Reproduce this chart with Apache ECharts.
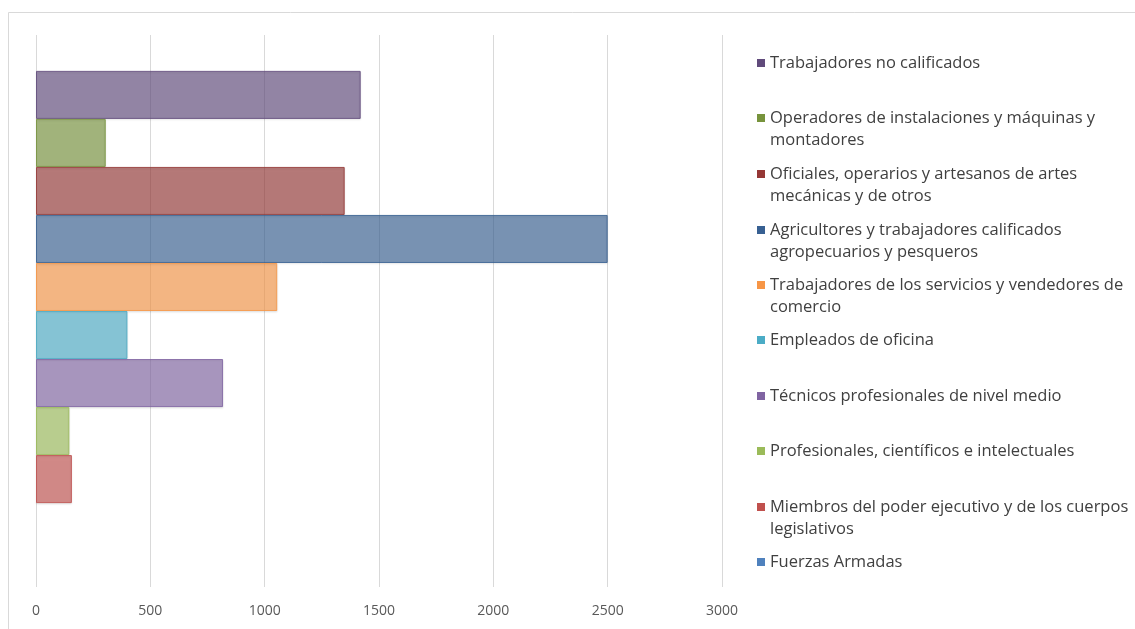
<!DOCTYPE html>
<html>
<head>
<meta charset="utf-8">
<script src="https://cdn.jsdelivr.net/npm/echarts@6/dist/echarts.min.js"></script>
<style>
html,body{margin:0;padding:0;background:#fff;}
#chart{width:1135px;height:629px;}
</style>
</head>
<body>
<div id="chart"></div>
<script>
// Data (top to bottom as drawn)
const seriesNames = [
  'Trabajadores no calificados',
  'Operadores de instalaciones y máquinas y montadores',
  'Oficiales, operarios y artesanos de artes mecánicas y de otros',
  'Agricultores y trabajadores calificados agropecuarios y pesqueros',
  'Trabajadores de los servicios y vendedores de comercio',
  'Empleados de oficina',
  'Técnicos profesionales de nivel medio',
  'Profesionales, científicos e intelectuales',
  'Miembros del poder ejecutivo y de los cuerpos legislativos',
  'Fuerzas Armadas'
];
// legend text split into lines as wrapped in the picture
const legendLines = [
  ['Trabajadores no calificados'],
  ['Operadores de instalaciones y máquinas y', 'montadores'],
  ['Oficiales, operarios y artesanos de artes', 'mecánicas y de otros'],
  ['Agricultores y trabajadores calificados', 'agropecuarios y pesqueros'],
  ['Trabajadores de los servicios y vendedores de', 'comercio'],
  ['Empleados de oficina'],
  ['Técnicos profesionales de nivel medio'],
  ['Profesionales, científicos e intelectuales'],
  ['Miembros del poder ejecutivo y de los cuerpos', 'legislativos'],
  ['Fuerzas Armadas']
];
const seriesValues = [1420, 305, 1350, 2500, 1055, 400, 818, 146, 157, 0];
const categories = [''];
const xTicks = [0, 500, 1000, 1500, 2000, 2500, 3000];

const colors = ['#604A7B','#77933C','#953735','#376092','#F79646','#4BACC6','#8064A2','#9BBB59','#C0504D','#4F81BD'];

function rgba(hex, a){
  const n = parseInt(hex.slice(1),16);
  return 'rgba(' + (n>>16 & 255) + ',' + (n>>8 & 255) + ',' + (n & 255) + ',' + a + ')';
}

const chart = echarts.init(document.getElementById('chart'));
const FONT = 'Open Sans';
const LEG_FONT_SIZE = 16.5;
const LEG_COLOR = '#404040';
const LEG_LEFT = 757;
const LEG_ICON = 8;
const LEG_LINE = 22;

const legendCenters = [63, 118, 174, 230, 285, 340, 396, 451, 507, 562];
const legends = seriesNames.map((name, i) => ({
  orient: 'vertical',
  left: LEG_LEFT,
  top: legendCenters[i] - 11,
  padding: 0,
  itemWidth: LEG_ICON,
  itemHeight: LEG_ICON,
  icon: 'rect',
  selectedMode: false,
  itemStyle: {color: colors[i], borderWidth: 0, shadowBlur: 0},
  data: [name],
  formatter: () => legendLines[i][0],
  textStyle: {
    fontFamily: FONT,
    fontSize: LEG_FONT_SIZE,
    color: LEG_COLOR,
    lineHeight: LEG_LINE
  }
}));

// continuation lines of wrapped legend entries
const legendCont = [];
legendLines.forEach((lines, i) => {
  for (let k = 1; k < lines.length; k++) {
    legendCont.push({
      type: 'text',
      left: LEG_LEFT + LEG_ICON + 5,
      top: legendCenters[i] - 11 + LEG_LINE * k,
      silent: true,
      style: {
        text: lines[k],
        fontFamily: FONT,
        fontSize: LEG_FONT_SIZE,
        lineHeight: LEG_LINE,
        fill: LEG_COLOR
      }
    });
  }
});

const series = seriesNames.map((name, i) => ({
  type: 'bar',
  name: name,
  data: [seriesValues[i] === 0
    ? {value: 0, itemStyle: {borderWidth: 0, opacity: 0}}
    : seriesValues[i]],
  barGap: '0%',
  barCategoryGap: '13%',
  color: colors[i],
  itemStyle: {
    color: rgba(colors[i], 0.64),
    borderColor: rgba(colors[i], 0.85),
    borderWidth: 1,
    shadowColor: 'rgba(0,0,0,0.12)',
    shadowBlur: 2,
    shadowOffsetY: 1
  },
  emphasis: {disabled: true}
}));

chart.setOption({
  animation: false,
  backgroundColor: '#fff',
  graphic: [{
    type: 'rect',
    shape: {x: 8.5, y: 12.5, width: 1140, height: 640},
    style: {fill: 'none', stroke: '#d9d9d9', lineWidth: 1},
    silent: true,
    z: -1
  }].concat(legendCont),
  legend: legends,
  grid: {left: 36, right: 413, top: 35, bottom: 42, containLabel: false},
  xAxis: {
    type: 'value',
    min: xTicks[0],
    max: xTicks[xTicks.length - 1],
    interval: xTicks[1] - xTicks[0],
    axisLine: {show: false},
    axisTick: {show: false},
    splitLine: {lineStyle: {color: '#d9d9d9', width: 1}},
    axisLabel: {color: '#595959', fontFamily: FONT, fontSize: 14, margin: 17,
      formatter: v => String(v)}
  },
  yAxis: {
    type: 'category',
    data: categories,
    axisLine: {show: false},
    axisTick: {show: false},
    axisLabel: {show: false}
  },
  series: series
});
</script>
</body>
</html>
